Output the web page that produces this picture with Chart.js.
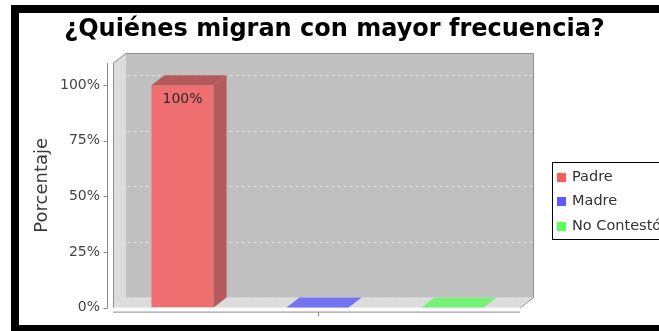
<!DOCTYPE html>
<html>
<head>
<meta charset="utf-8">
<script src="https://cdn.jsdelivr.net/npm/chart.js@4.4.1/dist/chart.umd.min.js"></script>
<style>
  html, body { margin: 0; padding: 0; background: #fff; }
  #wrap { width: 659px; height: 331px; }
</style>
</head>
<body>
<div id="wrap"><canvas id="chart" width="659" height="331"></canvas></div>
<script>
// data
const categories = ['Padre', 'Madre', 'No Contestó'];
const percentages = [100, 0, 0];
const yTickValues = [0, 25, 50, 75, 100];
const yMax = 110;

const frontColors = ['#ef6f71', '#7373f5', '#77f077'];
const sideColors = ['#b45a5a', '#5a5ab4', '#5ab45a'];
const legendColors = ['#ff5a5a', '#5a5aff', '#5aff5a'];

const DX = 13, DY = -10;
const FONT = "'DejaVu Sans', sans-serif";

function poly(ctx, pts, fill) {
  ctx.beginPath();
  ctx.moveTo(pts[0][0], pts[0][1]);
  for (let i = 1; i < pts.length; i++) ctx.lineTo(pts[i][0], pts[i][1]);
  ctx.closePath();
  ctx.fillStyle = fill;
  ctx.fill();
}

const frame = {
  id: 'frame',
  beforeDraw(chart) {
    const { ctx, width, height } = chart;
    ctx.save();
    ctx.fillStyle = '#fff';
    ctx.fillRect(0, 0, width, height);
    ctx.fillStyle = '#000';
    ctx.fillRect(11, 5, width - 11, 8);
    ctx.fillRect(11, 5, 8, height - 5);
    ctx.fillRect(11, 325, width - 11, 6);
    ctx.restore();
  }
};

const box3d = {
  id: 'box3d',
  beforeDatasetsDraw(chart) {
    const { ctx, chartArea: a, scales: { x, y } } = chart;
    const L = a.left - 2, R = a.right, T = a.top, B = a.bottom;
    ctx.save();
    poly(ctx, [[L, T], [L + DX, T + DY], [L + DX, B + DY], [L, B]], '#dcdcdc');
    poly(ctx, [[L, B], [L + DX, B + DY], [R + DX, B + DY], [R, B]], '#dcdcdc');
    ctx.fillStyle = '#c0c0c0';
    ctx.fillRect(L + DX, T + DY, R - L, B - T);

    // grid lines on side and back walls
    ctx.strokeStyle = '#e4e4e4';
    ctx.lineWidth = 1;
    ctx.setLineDash([3, 3]);
    yTickValues.forEach((v) => {
      const py = Math.round(y.getPixelForValue(v)) + 0.5;
      ctx.beginPath();
      ctx.moveTo(L, py);
      ctx.lineTo(L + DX, py + DY);
      ctx.lineTo(R + DX, py + DY);
      ctx.stroke();
    });
    ctx.setLineDash([]);

    // outline of the box
    ctx.strokeStyle = '#8f8f8f';
    ctx.beginPath();
    ctx.moveTo(L + 0.5, B);
    ctx.lineTo(L + 0.5, T);
    ctx.lineTo(L + DX, T + DY + 0.5);
    ctx.lineTo(R + DX + 0.5, T + DY + 0.5);
    ctx.lineTo(R + DX + 0.5, B + DY);
    ctx.lineTo(R, B + 0.5);
    ctx.stroke();

    // axes
    ctx.strokeStyle = '#888';
    const ax = a.left - 7.5;
    ctx.beginPath();
    ctx.moveTo(ax, T);
    ctx.lineTo(ax, B + 0.5);
    yTickValues.forEach((v) => {
      const py = Math.round(y.getPixelForValue(v)) + 0.5;
      ctx.moveTo(ax - 4, py);
      ctx.lineTo(ax, py);
    });
    const ay = B + 4.5;
    ctx.moveTo(L, ay);
    ctx.lineTo(R, ay);
    const mid = Math.round((x.getPixelForValue(0) + x.getPixelForValue(categories.length - 1)) / 2) + 0.5;
    ctx.moveTo(mid, ay);
    ctx.lineTo(mid, ay + 4);
    ctx.stroke();
    ctx.restore();
  },
  afterDatasetsDraw(chart) {
    const { ctx } = chart;
    const meta = chart.getDatasetMeta(0);
    ctx.save();
    meta.data.forEach((bar, i) => {
      const { x: cx, y: top, base, width } = bar.getProps(['x', 'y', 'base', 'width'], true);
      const l = cx - width / 2, r = cx + width / 2;
      const v = percentages[i];
      if (v > 0) {
        poly(ctx, [[r, top], [r + DX, top + DY], [r + DX, base + DY], [r, base]], sideColors[i]);
        poly(ctx, [[l, top], [l + DX, top + DY], [r + DX, top + DY], [r, top]], sideColors[i]);
        ctx.fillStyle = '#2a2a2a';
        ctx.font = '14px ' + FONT;
        ctx.textAlign = 'center';
        ctx.textBaseline = 'middle';
        ctx.fillText(v + '%', cx, top + 14);
      } else {
        poly(ctx, [[l, top], [l + DX, top + DY], [r + DX, top + DY], [r, top]], frontColors[i]);
      }
    });
    ctx.restore();
  }
};

const sideLegend = {
  id: 'sideLegend',
  afterDraw(chart) {
    const { ctx } = chart;
    ctx.save();
    ctx.strokeStyle = '#000';
    ctx.lineWidth = 1;
    ctx.strokeRect(552.5, 162.5, 140, 77);
    ctx.font = '14.5px ' + FONT;
    ctx.textBaseline = 'middle';
    ctx.textAlign = 'left';
    chart.data.labels.forEach((label, i) => {
      const cy = 177 + i * 24.5;
      ctx.fillStyle = legendColors[i];
      ctx.fillRect(557, Math.round(cy - 4.5), 9, 9);
      ctx.fillStyle = '#333';
      ctx.fillText(label, 572, cy);
    });
    ctx.restore();
  }
};

new Chart(document.getElementById('chart'), {
  type: 'bar',
  data: {
    labels: categories,
    datasets: [{
      label: 'Porcentaje',
      data: percentages,
      backgroundColor: frontColors,
      borderWidth: 0,
      barPercentage: 0.46,
      categoryPercentage: 1
    }]
  },
  options: {
    responsive: false,
    animation: false,
    layout: { padding: { left: 20, right: 10, top: 0, bottom: 22 } },
    plugins: {
      legend: { display: false },
      tooltip: { enabled: false },
      title: {
        display: true,
        text: '¿Quiénes migran con mayor frecuencia?',
        color: '#000',
        font: { family: FONT, size: 24, weight: 'bold' },
        padding: { top: 15.6, bottom: 18.6 }
      }
    },
    scales: {
      x: { display: false },
      y: {
        min: 0,
        max: yMax,
        grid: { display: false, drawTicks: false },
        border: { display: false },
        ticks: {
          stepSize: 25,
          includeBounds: false,
          padding: 15,
          color: '#444',
          font: { family: FONT, size: 14 },
          callback: (v) => v + '%'
        },
        title: {
          display: true,
          text: 'Porcentaje',
          color: '#3a3a3a',
          font: { family: FONT, size: 18 },
          padding: { top: 12, bottom: 0 }
        },
        afterFit: (s) => { s.width = 95; }
      },
      legendSpace: {
        type: 'linear',
        position: 'right',
        display: true,
        grid: { display: false, drawTicks: false },
        border: { display: false },
        ticks: { display: false },
        afterFit: (s) => { s.width = 129; }
      }
    }
  },
  plugins: [frame, box3d, sideLegend]
});
</script>
</body>
</html>
